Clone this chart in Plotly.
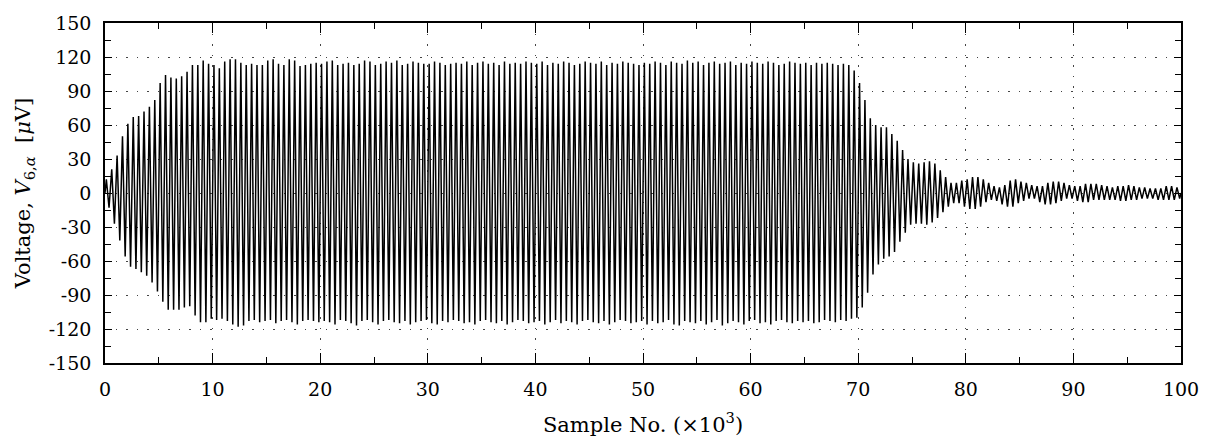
import plotly.graph_objects as go

# Oscillation: one positive peak and one negative trough per cycle
# (cycle period ~0.5 x10^3 samples), values in microvolts.
PERIOD_K = 0.5  # x10^3 samples per cycle

peaks = [
    12, 21, 33, 50, 61, 67, 68, 72, 76, 82,
    97, 104, 102, 101, 103, 107, 113, 113, 117, 114,
    113, 110, 116, 118, 118, 115, 113, 114, 113, 113,
    117, 118, 114, 113, 118, 117, 112, 113, 114, 115,
    114, 116, 117, 113, 114, 115, 113, 114, 117, 116,
    113, 114, 116, 115, 117, 113, 114, 116, 115, 114,
    114, 116, 115, 113, 114, 115, 114, 116, 113, 115,
    116, 114, 115, 113, 116, 114, 115, 114, 116, 115,
    114, 116, 113, 115, 114, 116, 115, 113, 114, 116,
    115, 114, 116, 113, 115, 114, 116, 115, 114, 113,
    115, 114, 116, 115, 113, 116, 115, 114, 117, 115,
    116, 113, 115, 116, 114, 115, 116, 113, 115, 114,
    116, 115, 114, 116, 115, 113, 114, 116, 115, 114,
    115, 113, 115, 114, 115, 114, 113, 114, 113, 108,
    97, 82, 66, 60, 58, 58, 52, 46, 38, 30,
    27, 26, 27, 28, 26, 20, 14, 9, 9, 11,
    12, 14, 14, 12, 9, 6, 5, 7, 11, 12,
    10, 9, 7, 6, 6, 9, 10, 10, 9, 7,
    6, 6, 8, 8, 8, 7, 6, 5, 6, 6,
    7, 6, 5, 5, 4, 4, 4, 6, 6, 5,
]

troughs = [
    -13, -27, -42, -56, -65, -67, -70, -73, -79, -87,
    -96, -103, -103, -103, -101, -100, -108, -114, -114, -111,
    -112, -111, -113, -116, -118, -117, -113, -112, -114, -113,
    -112, -115, -113, -112, -114, -116, -113, -112, -113, -114,
    -113, -114, -116, -112, -113, -115, -117, -113, -112, -114,
    -116, -113, -112, -114, -115, -113, -116, -114, -113, -112,
    -115, -116, -113, -114, -112, -113, -115, -114, -116, -113,
    -112, -114, -115, -113, -116, -114, -112, -113, -115, -114,
    -113, -116, -114, -112, -115, -113, -114, -116, -113, -112,
    -114, -115, -113, -116, -114, -112, -113, -115, -114, -113,
    -116, -113, -115, -114, -112, -116, -117, -113, -114, -115,
    -113, -116, -114, -112, -117, -115, -113, -114, -116, -113,
    -112, -115, -114, -116, -113, -112, -114, -115, -113, -114,
    -113, -115, -114, -112, -113, -114, -112, -113, -111,
    -110, -101, -88, -72, -63, -58, -56, -52, -43, -35, -28,
    -27, -27, -28, -26, -22, -17, -12, -9, -9, -12,
    -14, -14, -12, -8, -6, -7, -10, -12, -12, -9,
    -7, -5, -5, -8, -10, -10, -9, -7, -5, -5,
    -7, -8, -8, -6, -6, -6, -6, -6, -7, -7,
    -6, -6, -5, -5, -5, -6, -6, -6, -6, -5,
]

start_value = 0
end_value = 0

x_ticks = [0, 10, 20, 30, 40, 50, 60, 70, 80, 90, 100]
y_ticks = [-150, -120, -90, -60, -30, 0, 30, 60, 90, 120, 150]
y_tick_text = ["-150", "-120", "-90", "-60", "-30", "0", "30", "60", "90", "120", "150"]

assert len(peaks) == len(troughs) == 200

xs = [0.0]
ys = [start_value]
for k, (p, t) in enumerate(zip(peaks, troughs)):
    xs += [(k + 0.25) * PERIOD_K, (k + 0.75) * PERIOD_K]
    ys += [p, t]
xs.append(len(peaks) * PERIOD_K)
ys.append(end_value)

FONT = "DejaVu Serif"
FS = 19
TFS = 21

fig = go.Figure()
fig.add_trace(go.Scatter(
    x=xs, y=ys, mode="lines",
    line=dict(color="black", width=1.5),
    showlegend=False, hoverinfo="skip",
))

axis_common = dict(
    showline=True, linecolor="black", linewidth=1.6, mirror="allticks",
    ticks="inside", tickcolor="black", tickwidth=1.3,
    showgrid=True, gridcolor="#444444", gridwidth=1.2, griddash="1.5px,9px",
    zeroline=False,
    tickfont=dict(family=FONT, size=FS, color="black"),
)

fig.update_xaxes(
    **axis_common,
    range=[0, 100], tickvals=x_ticks, ticklen=10,
    minor=dict(dtick=5, tick0=0, ticks="inside", ticklen=6, tickcolor="black", showgrid=False),
    ticklabelstandoff=8,
    title=dict(text="Sample No. (×10<sup>3</sup>)", font=dict(family=FONT, size=TFS, color="black"), standoff=19),
)
fig.update_yaxes(
    **axis_common,
    range=[-150, 150], tickvals=y_ticks, ticktext=y_tick_text, ticklen=7,
    minor=dict(dtick=15, tick0=0, ticks="inside", ticklen=6, tickcolor="black", showgrid=False),
    ticklabelstandoff=8,
    title=dict(text="Voltage, <i>V</i><sub>6,<i>α</i></sub>&nbsp;&nbsp;[<i>μ</i>V]",
               font=dict(family=FONT, size=TFS, color="black"), standoff=12),
)

fig.update_layout(
    width=1215, height=445,
    margin=dict(l=105, r=34, t=16, b=74),
    paper_bgcolor="white", plot_bgcolor="white",
    font=dict(family=FONT, color="black"),
)

fig.write_html("out.html")
